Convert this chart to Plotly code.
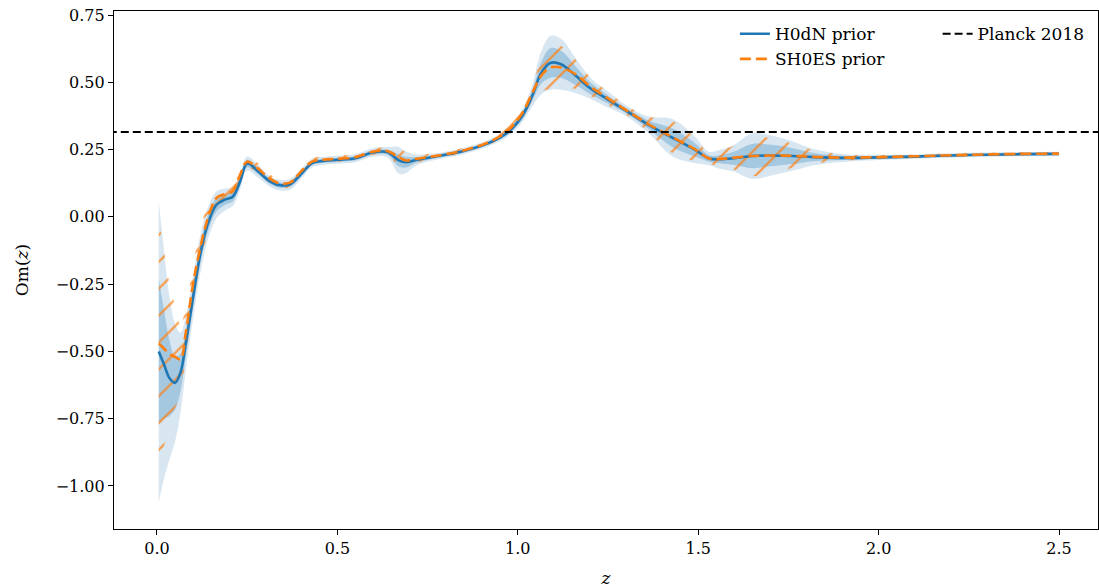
import plotly.graph_objects as go

# ---- data ----
z = [0.005, 0.02, 0.035, 0.05, 0.065, 0.08, 0.1, 0.12, 0.14, 0.165, 0.19, 0.21,
     0.23, 0.25, 0.28, 0.31, 0.34, 0.37, 0.4, 0.43, 0.46, 0.5, 0.55, 0.6, 0.64,
     0.67, 0.69, 0.72, 0.78, 0.85, 0.92, 0.97, 1.01, 1.04, 1.065, 1.09, 1.12,
     1.16, 1.2, 1.25, 1.3, 1.36, 1.43, 1.49, 1.53, 1.56, 1.6, 1.65, 1.7, 1.76,
     1.82, 1.9, 2.0, 2.1, 2.2, 2.3, 2.4, 2.5]

om_h0dn = [-0.50, -0.55, -0.60, -0.617, -0.58, -0.47, -0.30, -0.14, -0.03, 0.045,
           0.065, 0.075, 0.13, 0.198, 0.17, 0.135, 0.118, 0.122, 0.16, 0.20, 0.208,
           0.212, 0.218, 0.24, 0.24, 0.21, 0.203, 0.212, 0.226, 0.245, 0.275, 0.312,
           0.37, 0.45, 0.535, 0.572, 0.567, 0.525, 0.479, 0.436, 0.395, 0.344, 0.293,
           0.25, 0.217, 0.214, 0.218, 0.226, 0.228, 0.226, 0.222, 0.219, 0.221,
           0.224, 0.228, 0.231, 0.233, 0.234]

om_sh0es = [-0.47, -0.49, -0.51, -0.52, -0.53, -0.43, -0.25, -0.115, -0.01, 0.07,
            0.085, 0.095, 0.155, 0.205, 0.18, 0.145, 0.125, 0.128, 0.17, 0.205, 0.212,
            0.216, 0.222, 0.243, 0.244, 0.222, 0.21, 0.216, 0.228, 0.247, 0.278, 0.318,
            0.38, 0.46, 0.525, 0.555, 0.555, 0.53, 0.485, 0.44, 0.397, 0.346, 0.295,
            0.252, 0.217, 0.215, 0.22, 0.226, 0.228, 0.227, 0.223, 0.22, 0.222,
            0.225, 0.229, 0.232, 0.234, 0.235]

# H0dN half-widths of the 1 sigma and 2 sigma bands
h0dn_sig1 = [0.27, 0.20, 0.14, 0.10, 0.07, 0.05, 0.04, 0.035, 0.03, 0.025, 0.02,
             0.018, 0.016, 0.014, 0.012, 0.01, 0.01, 0.01, 0.01, 0.008, 0.008,
             0.008, 0.008, 0.008, 0.01, 0.022, 0.02, 0.01, 0.006, 0.006, 0.006,
             0.008, 0.012, 0.02, 0.04, 0.055, 0.05, 0.035, 0.022, 0.015, 0.01, 0.015,
             0.035, 0.025, 0.012, 0.015, 0.025, 0.045, 0.04, 0.03, 0.015, 0.008,
             0.005, 0.004, 0.004, 0.004, 0.004, 0.004]
h0dn_sig2 = [0.56, 0.42, 0.30, 0.22, 0.15, 0.10, 0.08, 0.07, 0.06, 0.05, 0.04,
             0.035, 0.03, 0.026, 0.024, 0.02, 0.02, 0.02, 0.018, 0.016, 0.015,
             0.015, 0.015, 0.016, 0.02, 0.05, 0.04, 0.02, 0.012, 0.012, 0.012,
             0.015, 0.022, 0.04, 0.08, 0.10, 0.095, 0.065, 0.04, 0.03, 0.02, 0.03,
             0.07, 0.05, 0.025, 0.035, 0.05, 0.085, 0.075, 0.055, 0.03, 0.015,
             0.01, 0.008, 0.008, 0.008, 0.008, 0.008]
# SH0ES half-width of the hatched band
sh0es_sig = [0.46, 0.36, 0.26, 0.19, 0.13, 0.09, 0.07, 0.065, 0.055, 0.045, 0.035,
             0.03, 0.025, 0.022, 0.02, 0.016, 0.016, 0.016, 0.014, 0.012, 0.012,
             0.012, 0.012, 0.012, 0.015, 0.035, 0.03, 0.015, 0.01, 0.01, 0.01,
             0.012, 0.018, 0.03, 0.06, 0.08, 0.08, 0.055, 0.035, 0.025, 0.018, 0.028,
             0.06, 0.045, 0.02, 0.03, 0.045, 0.075, 0.065, 0.045, 0.025, 0.012,
             0.008, 0.006, 0.006, 0.006, 0.006, 0.006]

planck_om = 0.315

x_ticks = [0.0, 0.5, 1.0, 1.5, 2.0, 2.5]
y_ticks = [0.75, 0.50, 0.25, 0.00, -0.25, -0.50, -0.75, -1.00]

BLUE = "#1f77b4"
ORANGE = "#ff7f0e"
FONT = "DejaVu Serif"

fig = go.Figure()


def band(center, half, **fillkw):
    up = [c + h for c, h in zip(center, half)]
    lo = [c - h for c, h in zip(center, half)]
    fig.add_trace(go.Scatter(x=z, y=up, mode="lines", line=dict(width=0, shape="spline"),
                             showlegend=False, hoverinfo="skip"))
    fig.add_trace(go.Scatter(x=z, y=lo, mode="lines", line=dict(width=0, shape="spline"),
                             fill="tonexty", showlegend=False, hoverinfo="skip", **fillkw))


band(om_h0dn, h0dn_sig2, fillcolor="rgba(31,119,180,0.18)")
band(om_h0dn, h0dn_sig1, fillcolor="rgba(31,119,180,0.27)")
band(om_sh0es, sh0es_sig, fillcolor="rgba(0,0,0,0)",
     fillpattern=dict(shape="/", fgcolor=ORANGE, fgopacity=0.75,
                      bgcolor="rgba(0,0,0,0)", size=19, solidity=0.12))

fig.add_trace(go.Scatter(x=z, y=om_h0dn, mode="lines", name="H0dN prior",
                         line=dict(color=BLUE, width=2.6, shape="spline"), legend="legend"))
fig.add_trace(go.Scatter(x=z, y=om_sh0es, mode="lines", name="SH0ES prior",
                         line=dict(color=ORANGE, width=2.6, dash="11px,5px", shape="spline"),
                         legend="legend"))
fig.add_trace(go.Scatter(x=[-0.2, 2.7], y=[planck_om, planck_om], mode="lines",
                         name="Planck 2018",
                         line=dict(color="black", width=2, dash="8px,4px"), legend="legend2"))

axis_common = dict(showline=True, linecolor="black", linewidth=1.2, mirror=True,
                   ticks="outside", ticklen=5, tickwidth=1, tickcolor="black",
                   showgrid=False, zeroline=False, automargin=False,
                   ticklabeloverflow="allow",
                   tickfont=dict(family=FONT, size=16, color="black"))

fig.update_layout(
    width=1099, height=588,
    margin=dict(l=114, r=1, t=11, b=59, autoexpand=False),
    plot_bgcolor="white", paper_bgcolor="white",
    font=dict(family=FONT, size=16, color="black"),
    hovermode=False,
    xaxis=dict(range=[-0.119, 2.608], tickvals=x_ticks,
               ticktext=[f"{v:.1f}" for v in x_ticks],
               title=dict(text="<i>z</i>", standoff=15,
                          font=dict(family=FONT, size=17)), **axis_common),
    yaxis=dict(range=[-1.16, 0.765], tickvals=y_ticks,
               ticktext=[f"{v:.2f}".replace("-", "\u2212") for v in y_ticks],
               title=dict(text="Om(<i>z</i>)", standoff=22,
                          font=dict(family=FONT, size=17)), **axis_common),
    legend=dict(x=0.631, y=0.99, xanchor="left", yanchor="top",
                bgcolor="rgba(0,0,0,0)", font=dict(family=FONT, size=17),
                itemwidth=30, tracegroupgap=2, traceorder="normal"),
    legend2=dict(x=0.837, y=0.99, xanchor="left", yanchor="top",
                 bgcolor="rgba(0,0,0,0)", font=dict(family=FONT, size=17),
                 itemwidth=30, traceorder="normal"),
)

# remove the default page margin so the figure sits at the window's corner
fig.write_html("out.html", config={"displayModeBar": False},
               post_script="document.body.style.margin='0';document.body.style.overflow='hidden';")
